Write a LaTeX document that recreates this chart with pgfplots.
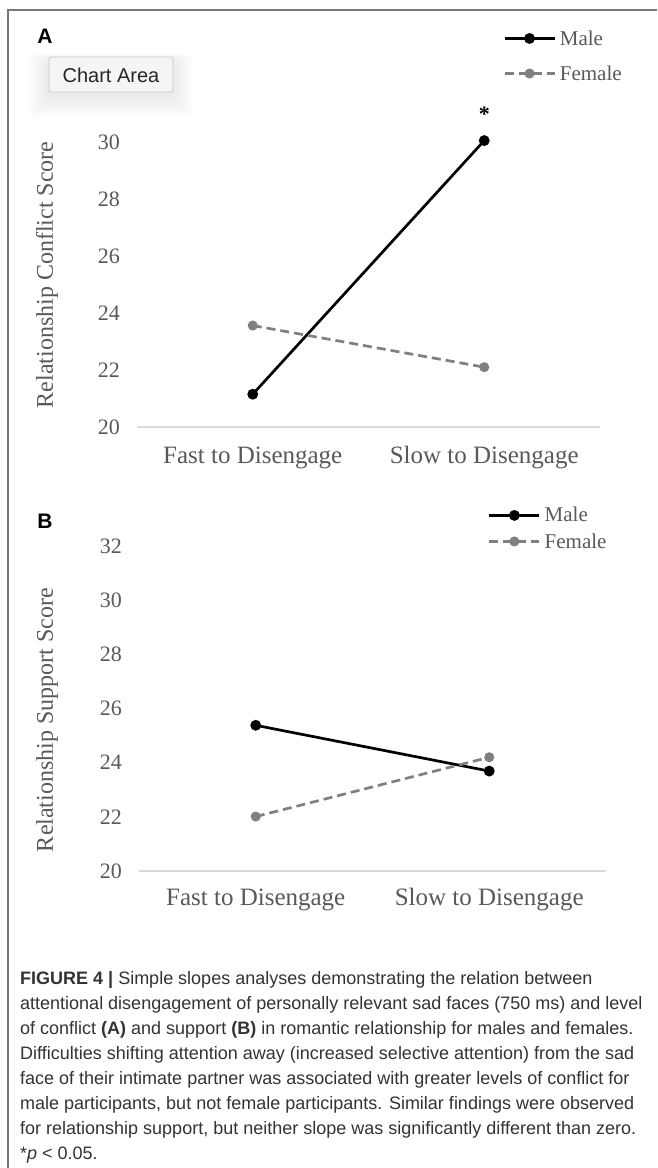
\documentclass[border=0pt]{standalone}
\usepackage{fontspec}
\setmainfont{Liberation Serif}
\newfontfamily\sans{Liberation Sans}
\usepackage{pgfplots}
\pgfplotsset{compat=1.18}
\definecolor{axgray}{HTML}{595959}
\definecolor{femgray}{HTML}{808080}
\definecolor{linegray}{HTML}{D9D9D9}
\definecolor{capgray}{HTML}{333333}
\definecolor{framegray}{HTML}{777777}
\definecolor{tipfill}{HTML}{F5F5F5}
\definecolor{tipdraw}{HTML}{C8C8C8}

\pgfplotsset{
 slopestyle/.style={
  scale only axis,
  xmin=-0.5, xmax=1.5, ymin=20, ymax=32,
  xtick={0,1}, xticklabels={Fast to Disengage, Slow to Disengage},
  ytick={20,22,...,32},
  axis x line*=bottom, axis y line*=left,
  x axis line style={draw=linegray, line width=1.5pt, -},
  y axis line style={draw=none, -},
  major tick length=0pt,
  /pgf/number format/assume math mode=true,
  yticklabel style={font=\fontsize{22}{22}\selectfont, text=axgray, anchor=east, inner sep=0pt, xshift=-17pt},
  xticklabel style={font=\fontsize{25}{25}\selectfont, text=axgray, anchor=base, inner sep=0pt},
  clip=false,
  legend style={draw=none, fill=none, inner sep=0pt, font=\fontsize{21}{21}\selectfont, text=axgray, nodes={inner sep=0pt}, column sep=4pt},
  legend cell align=left,
  legend image code/.code={\draw[mark repeat=2, mark phase=2, #1] plot coordinates {(0pt,0pt) (25pt,0pt) (50pt,0pt)};},
 },
 male/.style={black, line width=2.7pt, mark=*, mark size=4pt, mark options={solid}},
 female/.style={femgray, line width=2.7pt, dash pattern=on 9pt off 5pt, mark=*, mark size=3.6pt, mark options={solid}},
}

\begin{document}
\begin{tikzpicture}
\useasboundingbox (0pt,0pt) rectangle (657pt,-1168pt);
\fill[white] (0pt,0pt) rectangle (657pt,-1168pt);

% Panel A (the 32 label is hidden under the "Chart Area" tooltip in the reference)
\begin{axis}[slopestyle, at={(137pt,-427pt)}, anchor=south west,
  width=463pt, height=342pt,
  ytick={20,22,...,30},
  xticklabel style={yshift=-36.5pt},
  legend style={at={(0.7905,1.0848)}, anchor=west, row sep=19pt}]
\addplot[male] coordinates {(0,21.15) (1,30.05)};
\addplot[female] coordinates {(0,23.56) (1,22.10)};
\legend{Male, Female}
\node[font=\bfseries\fontsize{22}{22}\selectfont, inner sep=0pt] at (axis cs:1,30.97) {*};
\end{axis}

% Panel B
\begin{axis}[slopestyle, at={(139pt,-871pt)}, anchor=south west,
  width=467pt, height=325pt,
  xticklabel style={yshift=-34.5pt},
  legend style={at={(0.747,1.054)}, anchor=west, row sep=10pt}]
\addplot[male] coordinates {(0,25.38) (1,23.69)};
\addplot[female] coordinates {(0,22.01) (1,24.20)};
\legend{Male, Female}
\end{axis}

% axis titles
\node[rotate=90, font=\fontsize{24}{24}\selectfont, text=axgray] at (47pt,-275pt) {Relationship Conflict Score};
\node[rotate=90, font=\fontsize{24}{24}\selectfont, text=axgray] at (47pt,-720pt) {Relationship Support Score};

% panel letters
\node[font=\sans\bfseries\fontsize{21}{21}\selectfont] at (45pt,-36pt) {A};
\node[font=\sans\bfseries\fontsize{21}{21}\selectfont] at (45pt,-521pt) {B};

% tooltip with soft shadow
\foreach \d in {2,4,...,20} {
  \fill[black, opacity=0.008, rounded corners=6pt] ({(49-\d)*1pt},{(-60+\d*0.3)*1pt}) rectangle ({(173+\d)*1pt},{(-96-\d*1.1)*1pt});
}
\filldraw[fill=tipfill, draw=tipdraw, line width=0.8pt, rounded corners=2pt] (49pt,-57pt) rectangle (173pt,-92pt);
\node[font=\sans\fontsize{20}{20}\selectfont, text=black!85] at (111pt,-75pt) {Chart Area};

% frame
\draw[framegray, line width=1.5pt] (8pt,-1168pt) -- (8pt,-10pt) -- (657pt,-10pt);

% caption
\begin{scope}[every node/.style={anchor=base west, inner sep=0pt, font=\sans\fontsize{18}{18}\selectfont, text=capgray}]
\node at (20pt,-984.5pt) {\textbf{FIGURE 4 |} Simple slopes analyses demonstrating the relation between};
\node at (20pt,-1009.5pt) {attentional disengagement of personally relevant sad faces (750 ms) and level};
\node at (20pt,-1034.5pt) {of conflict \textbf{(A)} and support \textbf{(B)} in romantic relationship for males and females.};
\node at (20pt,-1059.5pt) {Difficulties shifting attention away (increased selective attention) from the sad};
\node at (20pt,-1084.5pt) {face of their intimate partner was associated with greater levels of conflict for};
\node at (20pt,-1109.5pt) {male participants, but not female participants. Similar findings were observed};
\node at (20pt,-1134.5pt) {for relationship support, but neither slope was significantly different than zero.};
\node at (20pt,-1159.5pt) {*\textit{p} < 0.05.};
\end{scope}
\end{tikzpicture}
\end{document}
